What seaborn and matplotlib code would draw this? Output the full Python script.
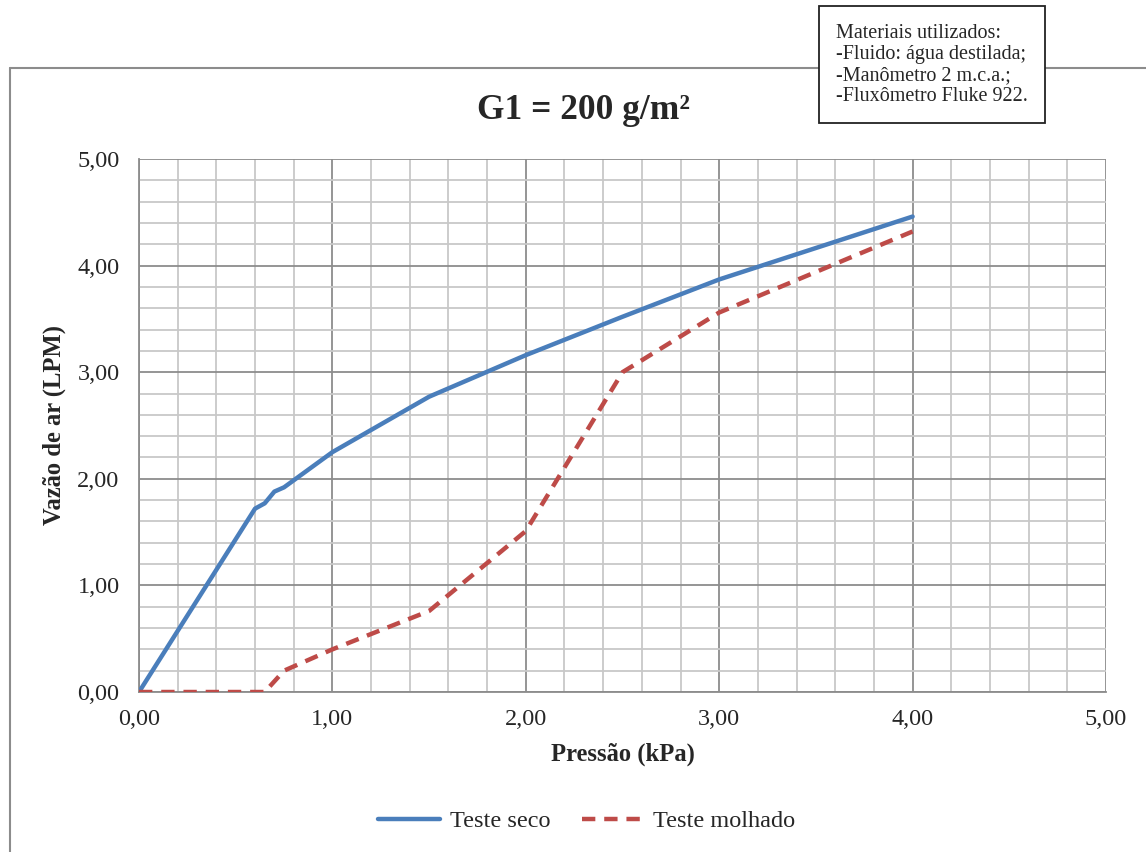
import matplotlib
matplotlib.use("Agg")
import matplotlib.pyplot as plt
import numpy as np
import pandas as pd
import seaborn as sns
from matplotlib.lines import Line2D
from matplotlib.ticker import FuncFormatter, MultipleLocator

# data
pressao_seco = [0.0, 0.6, 0.65, 0.7, 0.75, 1.0, 1.5, 2.0, 2.5, 3.0, 4.0]
vazao_seco = [0.0, 1.72, 1.77, 1.88, 1.92, 2.25, 2.77, 3.16, 3.52, 3.87, 4.46]
pressao_molhado = [0.0, 0.6, 0.65, 0.7, 0.75, 1.0, 1.5, 2.0, 2.5, 3.0, 4.0]
vazao_molhado = [0.0, 0.0, 0.0, 0.1, 0.2, 0.4, 0.76, 1.51, 3.0, 3.56, 4.32]
series_names = ["Teste seco", "Teste molhado"]
series_colors = ["#4A7EBB", "#BE4B48"]

df = pd.concat([
    pd.DataFrame({"Pressão": pressao_seco, "Vazão": vazao_seco, "serie": series_names[0]}),
    pd.DataFrame({"Pressão": pressao_molhado, "Vazão": vazao_molhado, "serie": series_names[1]}),
])

sns.set_style("white")
plt.rcParams["font.family"] = ["Liberation Serif", "DejaVu Serif"]

fig = plt.figure(figsize=(11.46, 8.52), dpi=100)
ax = fig.add_axes([0.1213, 0.1878, 0.8438, 0.6256])

dash = (3, 2)
sns.lineplot(
    data=df, x="Pressão", y="Vazão", hue="serie", style="serie",
    palette=dict(zip(series_names, series_colors)),
    dashes={series_names[0]: "", series_names[1]: dash},
    linewidth=3.2, sort=False, estimator=None, ax=ax, legend=False, zorder=3,
)

ax.set_xlim(0, 5)
ax.set_ylim(0, 5)
ax.xaxis.set_major_locator(MultipleLocator(1))
ax.yaxis.set_major_locator(MultipleLocator(1))
ax.xaxis.set_minor_locator(MultipleLocator(0.2))
ax.yaxis.set_minor_locator(MultipleLocator(0.2))
fmt = FuncFormatter(lambda v, p: f"{v:.2f}".replace(".", ","))
ax.xaxis.set_major_formatter(fmt)
ax.yaxis.set_major_formatter(fmt)
ax.grid(which="major", color="#8c8c8c", linewidth=1.3)
ax.grid(which="minor", color="#c8c8c8", linewidth=1.3)
ax.set_axisbelow(True)
for side in ["top", "right"]:
    ax.spines[side].set_visible(False)
for side in ["left", "bottom"]:
    ax.spines[side].set_color("#8c8c8c")
    ax.spines[side].set_linewidth(1.3)
ax.tick_params(which="major", length=6, width=1.3, color="#8c8c8c", labelsize=17.5, pad=8)
ax.tick_params(axis="x", which="major", pad=6)
ax.tick_params(which="minor", length=0)

ax.set_xlabel("Pressão (kPa)", fontsize=17.7, fontweight="bold", labelpad=9)
ax.set_ylabel("Vazão de ar (LPM)", fontsize=17.7, fontweight="bold", labelpad=8)
fig.text(0.509, 0.870, "G1 = 200 g/m²", ha="center", va="center", fontsize=25.5, fontweight="bold")

# outer chart frame
fig.add_artist(Line2D([0.0087, 0.0087], [0.0, 0.920], color="#8c8c8c", linewidth=1.5, transform=fig.transFigure))
fig.add_artist(Line2D([0.0087, 1.0], [0.920, 0.920], color="#8c8c8c", linewidth=1.5, transform=fig.transFigure))

# materials box
fig.text(
    0.7295, 0.924,
    "Materiais utilizados:\n-Fluido: água destilada;\n-Manômetro 2 m.c.a.;\n-Fluxômetro Fluke 922.",
    ha="left", va="center", fontsize=14.5, linespacing=1.15, zorder=5,
    bbox=dict(boxstyle="square,pad=0.85", facecolor="white", edgecolor="#222222", linewidth=1.3),
)

handles = [
    Line2D([], [], color=series_colors[0], linewidth=3.2),
    Line2D([], [], color=series_colors[1], linewidth=3.2, dashes=dash),
]
fig.legend(handles, series_names, loc="center", bbox_to_anchor=(0.512, 0.036), ncol=2,
           frameon=False, fontsize=17.5, handlelength=2.55, columnspacing=1.3, handletextpad=0.4)

fig.savefig("out.png", dpi=100)
